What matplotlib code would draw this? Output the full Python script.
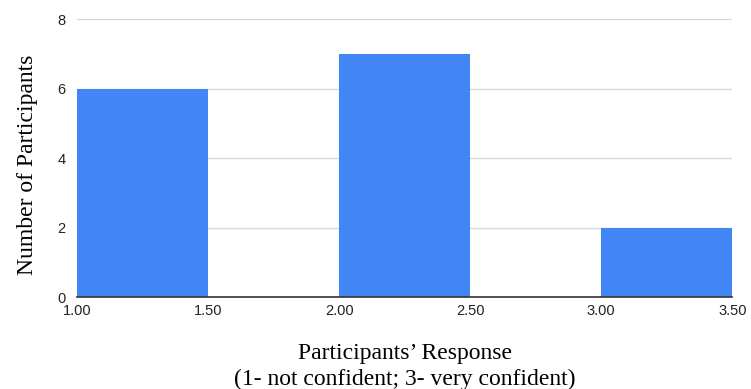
import matplotlib.pyplot as plt
import numpy as np

# histogram bins and counts
bin_left = [1.0, 2.0, 3.0]
bin_width = [0.5, 0.5, 0.5]
counts = [6, 7, 2]
xticks = [1.0, 1.5, 2.0, 2.5, 3.0, 3.5]
yticks = [0, 2, 4, 6, 8]

fig = plt.figure(figsize=(7.51, 3.89), dpi=100)
ax = fig.add_axes([0.1025, 0.2365, 0.8725, 0.7145])

ax.bar(bin_left, counts, width=bin_width, align='edge', color='#4285F4', zorder=2)

ax.set_xlim(1.0, 3.5)
ax.set_ylim(0, 8)
ax.set_xticks(xticks)
ax.set_xticklabels([f"{t:.2f}" for t in xticks])
ax.set_yticks(yticks)

ax.grid(axis='y', color='#d9d9d9', linewidth=1, zorder=0)
for s in ['top', 'right', 'left']:
    ax.spines[s].set_visible(False)
ax.spines['bottom'].set_color('#333333')
ax.spines['bottom'].set_linewidth(1.2)
ax.spines['bottom'].set_zorder(3)
ax.tick_params(axis='y', length=0, labelsize=10.5, pad=8, labelcolor='#222222')
ax.tick_params(axis='x', length=0, labelsize=10.5, pad=5, labelcolor='#222222')
for lbl in ax.get_xticklabels() + ax.get_yticklabels():
    lbl.set_family('Liberation Sans')

ax.set_ylabel('Number of Participants', family='Liberation Serif', fontsize=17)
ax.yaxis.set_label_coords(-0.060, 0.475)
ax.set_xlabel('Participants\u2019 Response\n(1- not confident; 3- very confident)',
              family='Liberation Serif', fontsize=17, labelpad=18, linespacing=1.3)

fig.savefig('out.png', dpi=100)
